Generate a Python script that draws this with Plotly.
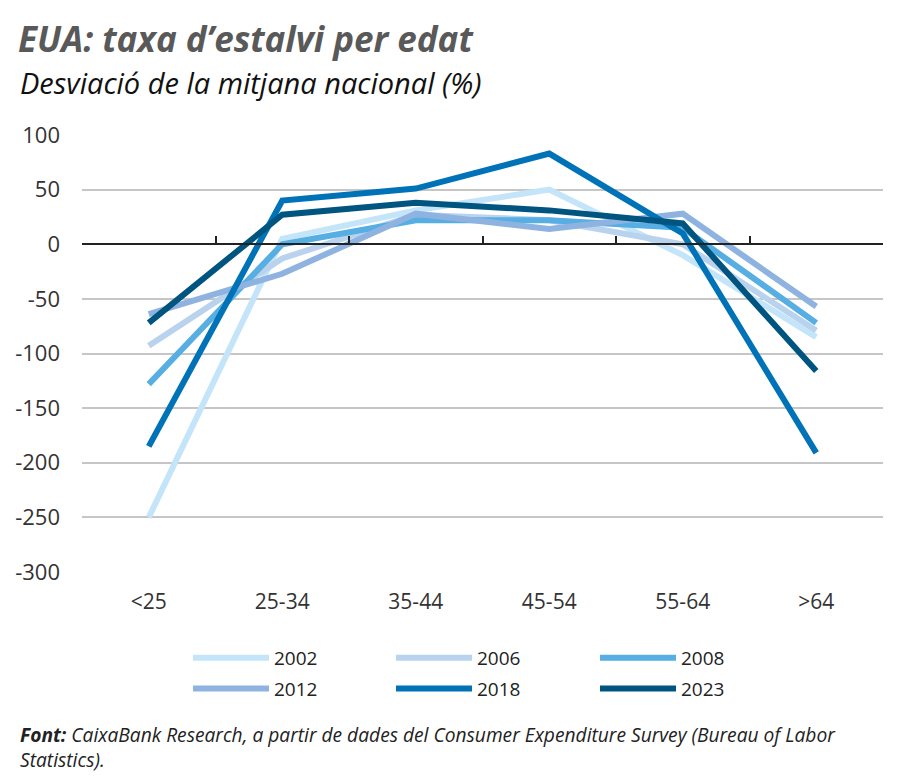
import plotly.graph_objects as go

# edats i anys
grups_edat = ["<25", "25-34", "35-44", "45-54", "55-64", ">64"]
anys = ["2002", "2006", "2008", "2012", "2018", "2023"]

# desviació respecte la mitjana nacional (%)
v2002 = [-250, 5, 31, 50, -10, -85]
v2006 = [-93, -13, 27, 22, 0, -79]
v2008 = [-128, 0, 22, 22, 15, -72]
v2012 = [-64, -27, 28, 14, 28, -57]
v2018 = [-185, 40, 51, 83, 10, -191]
v2023 = [-72, 27, 38, 31, 19, -116]

colors = ["#c4e5f9", "#b9d3ee", "#56aee2", "#8fb3e0", "#0073b8", "#005580"]

y_ticks = [100, 50, 0, -50, -100, -150, -200, -250, -300]
y_ticktext = ["100", "50", "0", "-50", "-100", "-150", "-200", "-250", "-300"]

series = [v2002, v2006, v2008, v2012, v2018, v2023]
# columna de la llegenda per a cada any
llegendes = ["legend", "legend2", "legend3", "legend", "legend2", "legend3"]

# la pàgina té un marge de 8 px, per això tot es desplaça
OFF = 8
W, H = 900, 784
L, R, T, B = 82 - OFF, 883 - OFF, 135 - OFF, 572 - OFF


def px(x):
    return (x - OFF - L) / (R - L)


def py(y):
    return (B - (y - OFF)) / (B - T)


fig = go.Figure()
for i, (nom, vals) in enumerate(zip(anys, series)):
    fig.add_trace(go.Scatter(
        x=list(range(len(grups_edat))), y=vals, name=nom, mode="lines",
        line=dict(color=colors[i], width=6),
        legend=llegendes[i], legendgroup=nom,
    ))

# eix del zero amb marques entre categories
fig.add_trace(go.Scatter(x=[-0.5, 5.5], y=[0, 0], xaxis="x2", mode="lines",
                         line=dict(color="rgba(0,0,0,0)"), showlegend=False, hoverinfo="skip"))

leg_comu = dict(
    orientation="v", xanchor="left", xref="container",
    y=1 - (639 - OFF) / H, yanchor="top", yref="container",
    font=dict(size=19, color="#222222"), itemwidth=76, tracegroupgap=3,
    bgcolor="rgba(0,0,0,0)",
)

fig.update_layout(
    width=W, height=H,
    margin=dict(l=L, r=W - R, t=T, b=H - B, autoexpand=False),
    plot_bgcolor="white", paper_bgcolor="white",
    font=dict(family="Open Sans", size=18, color="#333333"),
    title=dict(
        text="<b><i>EUA: taxa d’estalvi per edat</i></b>",
        x=(18 - OFF) / W, xanchor="left", xref="container",
        y=1 - (40 - OFF) / H, yanchor="middle", yref="container",
        font=dict(family="Open Sans", size=35, color="#595959"),
    ),
    xaxis=dict(
        range=[-0.5, 5.5], tickvals=list(range(len(grups_edat))), ticktext=grups_edat,
        showgrid=False, zeroline=False, showline=False, ticks="",
        tickfont=dict(size=21, color="#333333"), ticklabelstandoff=15, automargin=False,
    ),
    xaxis2=dict(
        overlaying="x", anchor="free", position=0.75, side="bottom",
        range=[-0.5, 5.5], tickvals=[-0.5, 0.5, 1.5, 2.5, 3.5, 4.5, 5.5],
        showticklabels=False, showgrid=False, zeroline=False,
        showline=True, linecolor="#222222", linewidth=2,
        ticks="inside", ticklen=7, tickwidth=1.5, tickcolor="#222222", automargin=False,
    ),
    yaxis=dict(
        range=[-300, 100], tickvals=y_ticks, ticktext=y_ticktext,
        showgrid=True, gridcolor="#c6c6c6", gridwidth=1.5,
        zeroline=False, showline=False, ticks="", ticklabelstandoff=21,
        tickfont=dict(size=22, color="#333333"), automargin=False,
    ),
    legend=dict(leg_comu, x=(188 - OFF) / W),
    legend2=dict(leg_comu, x=(391 - OFF) / W),
    legend3=dict(leg_comu, x=(595 - OFF) / W),
    annotations=[
        dict(
            text="<i>Desviació de la mitjana nacional (%)</i>",
            x=px(18), xref="paper", xanchor="left",
            y=py(82), yref="paper", yanchor="middle",
            showarrow=False, font=dict(size=29, color="#111111"),
        ),
        dict(
            text="<b><i>Font:</i></b><i> CaixaBank Research, a partir de dades del Consumer Expenditure Survey (Bureau of Labor<br>Statistics).</i>",
            x=px(18), xref="paper", xanchor="left", align="left",
            y=py(747), yref="paper", yanchor="middle",
            showarrow=False, font=dict(size=19.2, color="#222222"),
        ),
    ],
)

fig.write_html("out.html")
